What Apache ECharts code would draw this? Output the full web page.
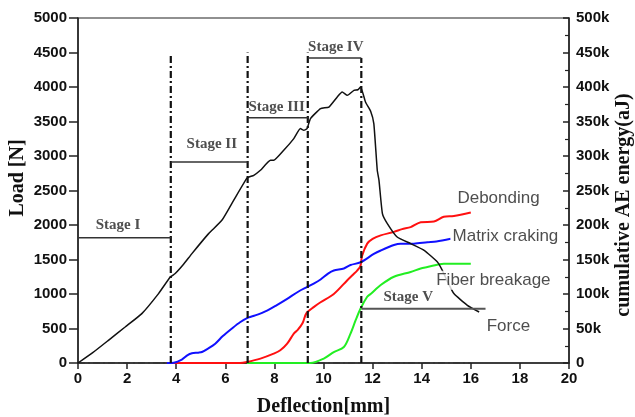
<!DOCTYPE html>
<html><head><meta charset="utf-8">
<script src="https://cdn.jsdelivr.net/npm/echarts@6/dist/echarts.min.js"></script>
<style>html,body{margin:0;padding:0;background:#fff}#c{width:635px;height:417px}</style>
</head><body><div id="c"></div>
<script>
// ---- data (deflection [mm], load [N]) ----
const force = [[0,0],[0.6,150],[1.24,329],[1.92,522],[2.6,716],[3.28,1006],[3.76,1246],[3.96,1296],[4.3,1430],[4.64,1585],[5.32,1875],[5.86,2068],[6.34,2358],[6.88,2680],[7.0,2700],[7.16,2720],[7.43,2793],[7.84,2938],[7.97,2938],[8.38,3083],[8.79,3252],[9.06,3397],[9.2,3372],[9.33,3397],[9.47,3542],[9.88,3687],[10.22,3710],[10.56,3855],[10.76,3928],[10.97,3880],[11.24,3952],[11.4,3960],[11.51,4000],[11.71,3783],[11.92,3650],[12.05,3470],[12.19,2793],[12.26,2648],[12.4,2165],[12.6,2020],[13.0,1826],[13.55,1730],[14.1,1633],[14.64,1464],[14.84,1343],[15.05,1180],[15.31,1006],[15.86,836],[16.34,739]];
// cumulative AE energy in k aJ
const matrix = [[3.62,0],[3.9,0.5],[4.23,4.9],[4.45,11],[4.64,14],[4.9,15],[5.05,16],[5.3,21],[5.59,28],[5.9,39],[6.27,50],[6.6,59],[6.95,66],[7.22,69],[7.7,76],[8.1,84],[8.52,93],[9.0,104],[9.33,110],[9.6,115],[9.88,121],[10.2,130],[10.42,134],[10.83,137],[11.1,142],[11.51,146],[12.05,158],[12.33,163],[12.87,171],[13.14,173],[13.68,173],[14.23,175],[14.6,176],[15.18,180]];
const debonding = [[3.62,0],[6.6,0],[6.88,1.5],[7.43,6.4],[7.97,13.6],[8.24,18.4],[8.52,28],[8.79,42.6],[8.95,48],[9.15,58],[9.3,72],[9.6,81],[9.88,88],[10.42,100],[10.97,120],[11.2,128],[11.37,134],[11.5,140],[11.57,155],[11.78,173],[12.0,180],[12.33,185],[12.87,190],[13.2,194],[13.55,197],[13.96,204],[14.5,205],[14.9,212],[15.31,213],[16.0,218]];
const fiber = [[6.88,0],[9.47,0],[10.01,6.4],[10.42,15.9],[10.83,23.2],[11.1,42.6],[11.31,62],[11.51,79],[11.78,96],[11.92,100],[12.33,113],[12.87,125],[13.55,132],[13.96,137],[14.23,139],[14.9,144],[15.5,144],[16.0,144]];
const baseline = [[0,0],[16,0]];
// stage boundaries
const stageX = [3.78, 6.91, 9.36, 11.54];
const stageTop = [4480, 4500, 4500, 4420];
const stageSpans = [[0,3.78,1817],[3.78,6.91,2913],[6.91,9.36,3556],[9.36,11.54,4420],[11.54,16.6,788]];
const stageNames = ['Stage I','Stage II','Stage III','Stage IV','Stage V'];
const stageLabelAt = [[1.63,1996],[5.45,3165],[8.09,3705],[10.5,4580],[13.45,957]];
const seriesNames = ['Debonding','Matrix craking','Fiber breakage','Force'];
const seriesLabelAt = [[17.13,2383],[17.41,1836],[16.92,1199],[17.53,532]];
// axes
const xMin = 0, xMax = 20, xStep = 2;
const loadMin = 0, loadMax = 5000, loadStep = 500;
const aeMin = 0, aeMax = 500, aeStep = 50;

const SERIF = '"Liberation Serif","Times New Roman",serif';
const SANS = '"Liberation Sans",Arial,sans-serif';
const AXC = '#222';

const series = [];
series.push({type:'line', yAxisIndex:1, data:baseline, showSymbol:false, symbol:'none', silent:true,
  lineStyle:{color:'#333', width:1.5, type:[7,3,2,3]}, z:1});
series.push({name:'Fiber breakage', type:'line', yAxisIndex:1, data:fiber, symbol:'none', smooth:0.3, lineStyle:{color:'#22ee22', width:2}, z:2});
series.push({name:'Debonding', type:'line', yAxisIndex:1, data:debonding, symbol:'none', smooth:0.3, lineStyle:{color:'#ff1010', width:2}, z:3});
series.push({name:'Matrix craking', type:'line', yAxisIndex:1, data:matrix, symbol:'none', smooth:0.3, lineStyle:{color:'#1010ff', width:2}, z:4});
series.push({name:'Force', type:'line', yAxisIndex:0, data:force, symbol:'none', smooth:0.15, lineStyle:{color:'#111', width:1.5}, z:5});
stageX.forEach((x,i)=>{
  series.push({type:'line', yAxisIndex:0, data:[[x,0],[x,stageTop[i]]], symbol:'none', silent:true,
    lineStyle:{color:'#111', width:2.2, type:[7,3,2,3]}, z:6});
});
stageSpans.forEach((s,i)=>{
  series.push({type:'line', yAxisIndex:0, data:[[s[0],s[2]],[s[1],s[2]]], symbol:'none', silent:true,
    lineStyle:{color: i===4 ? '#555' : '#333', width: i===4 ? 2 : 1.5}, z:6});
});
series.push({type:'scatter', yAxisIndex:0, symbolSize:0, silent:true, z:10,
  data: stageNames.map((n,i)=>({name:n, value:stageLabelAt[i]})),
  label:{show:true, position:'inside', formatter:p=>p.name, fontFamily:SERIF, fontWeight:'bold', fontSize:15, color:'#222'}});
series.push({type:'scatter', yAxisIndex:0, symbolSize:0, silent:true, z:10,
  data: seriesNames.map((n,i)=>({name:n, value:seriesLabelAt[i]})),
  label:{show:true, position:'inside', formatter:p=>p.name, fontFamily:SANS, fontSize:17, color:'#222',
    backgroundColor:'#fff', padding:[1,2]}});

const tickFont = {fontFamily:SANS, fontWeight:700, fontSize:15, color:'#111'};
const chart = echarts.init(document.getElementById('c'), null, {renderer:'canvas'});
chart.setOption({
  animation:false,
  backgroundColor:'#fff',
  grid:{left:78, right:66, top:18, bottom:54, show:true, borderColor:AXC, borderWidth:1.2, backgroundColor:'transparent',
    containLabel:false, outerBoundsMode:'none'},
  xAxis:{type:'value', min:xMin, max:xMax, interval:xStep,
    axisLine:{show:true, onZero:false, lineStyle:{color:AXC, width:1.5}},
    axisTick:{show:true, inside:false, length:6, lineStyle:{color:AXC, width:1.5}},
    axisLabel:Object.assign({margin:8, formatter:v=>String(v)}, tickFont),
    splitLine:{show:false},
    name:'Deflection[mm]', nameLocation:'middle', nameGap:34,
    nameTextStyle:{fontFamily:SERIF, fontWeight:'bold', fontSize:20, color:'#111'}},
  yAxis:[
    {type:'value', min:loadMin, max:loadMax, interval:loadStep, position:'left',
      axisLine:{show:true, onZero:false, lineStyle:{color:AXC, width:1.5}},
      axisTick:{show:true, inside:false, length:9, lineStyle:{color:AXC, width:1.5}},
      axisLabel:Object.assign({margin:11, formatter:v=>String(v)}, tickFont),
      splitLine:{show:false}},
    {type:'value', min:aeMin, max:aeMax, interval:aeStep, position:'right',
      axisLine:{show:true, onZero:false, lineStyle:{color:AXC, width:1.5}},
      axisTick:{show:true, inside:true, length:6, lineStyle:{color:AXC, width:1.5}},
      minorTick:{show:true, splitNumber:2, length:4, lineStyle:{color:AXC, width:1.2}},
      axisLabel:Object.assign({margin:7, formatter:v=> v===0 ? '0' : v+'k'}, tickFont),
      splitLine:{show:false}}
  ],
  graphic:[
    {type:'text', x:18, y:178, rotation:Math.PI/2, silent:true,
      style:{text:'Load [N]', align:'center', verticalAlign:'middle', font:'bold 20px '+SERIF, fill:'#111'}},
    {type:'text', x:624, y:205, rotation:Math.PI/2, silent:true,
      style:{text:'cumulative AE energy(aJ)', align:'center', verticalAlign:'middle', font:'bold 20px '+SERIF, fill:'#111'}}
  ],
  series
});
</script></body></html>
